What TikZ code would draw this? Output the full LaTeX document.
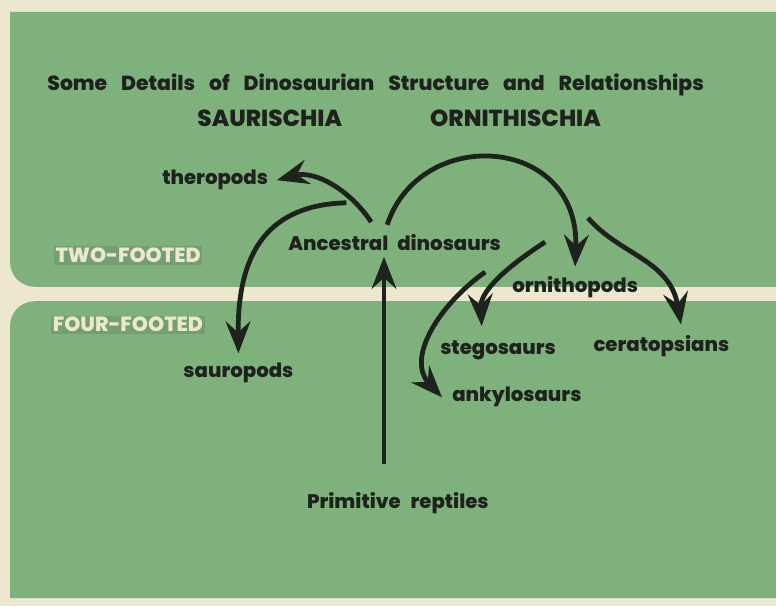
\documentclass[tikz,border=0pt]{standalone}
\usepackage{fontspec}
\setsansfont{Poppins}[BoldFont={Poppins ExtraBold}]
\usetikzlibrary{arrows.meta}
\definecolor{panelgreen}{RGB}{127,177,124}
\definecolor{gaitshade}{RGB}{116,160,113}
\definecolor{papercream}{RGB}{236,231,206}
\definecolor{inkdark}{RGB}{30,34,28}
\tikzset{
  every node/.style={font=\sffamily\bfseries\fontsize{14}{16}\selectfont,text=inkdark},
  taxon/.style={anchor=base west,inner sep=2pt},
  headline/.style={anchor=base west,font=\sffamily\bfseries\fontsize{14.5}{16}\selectfont},
  suborder/.style={anchor=base west,font=\sffamily\bfseries\fontsize{16.5}{18}\selectfont},
  gait/.style={anchor=base west,text=papercream,fill=gaitshade,inner sep=1.2pt,
    font=\sffamily\bfseries\fontsize{14.6}{16}\selectfont},
  lineage/.style={draw=inkdark,line width=3.4pt,
    -{Stealth[length=0.80cm,width=0.62cm,inset=0.28cm]}}
}

\begin{document}
\begin{tikzpicture}
  \useasboundingbox (0,0) rectangle (19.40,15.15);
  \fill[papercream] (0,0) rectangle (19.40,15.15);

  % Two panels: two-footed above, four-footed below.
  \fill[panelgreen] (19.40,14.85) -- (0.25,14.85) -- (0.25,8.60)
    arc[start angle=180,end angle=270,radius=0.62] -- (19.40,7.98) -- cycle;
  \fill[panelgreen] (19.40,0.20) -- (0.25,0.20) -- (0.25,7.00)
    arc[start angle=180,end angle=90,radius=0.62] -- (19.40,7.62) -- cycle;

  % Headings.
  \node[headline] (title) at (1.06,12.88)
    {\spaceskip=0.68em\relax Some Details of Dinosaurian Structure and Relationships};
  \node[suborder] (saurischia) at (4.81,11.98) {SAURISCHIA};
  \node[suborder] (ornithischia) at (10.63,11.98) {ORNITHISCHIA};
  \node[gait] (twofooted) at (1.34,8.58) {TWO-FOOTED};
  \node[gait] (fourfooted) at (1.27,6.85) {FOUR-FOOTED};

  % Groups.
  \node[taxon] (ancestral) at (7.13,8.88) {\spaceskip=0.45em\relax Ancestral dinosaurs};
  \node[taxon] (theropods) at (3.98,10.53) {theropods};
  \node[taxon] (sauropods) at (4.51,5.70) {sauropods};
  \node[taxon] (ornithopods) at (12.73,7.83) {ornithopods};
  \node[taxon] (stegosaurs) at (10.93,6.28) {stegosaurs};
  \node[taxon] (ceratopsians) at (14.76,6.35) {ceratopsians};
  \node[taxon] (ankylosaurs) at (11.23,5.10) {ankylosaurs};
  \node[taxon] (primitive) at (7.60,2.45) {\spaceskip=0.5em\relax Primitive reptiles};

  % Where the branches leave their stems.
  \coordinate (stem-foot) at (9.60,3.55);
  \coordinate (thero-sprout) at (9.28,9.60);
  \coordinate (sauro-sprout) at (8.66,10.08);
  \coordinate (ornitho-sprout) at (9.68,9.53);
  \coordinate (stego-sprout) at (13.63,9.10);
  \coordinate (ankylo-sprout) at (12.13,8.35);
  \coordinate (cerato-sprout) at (14.70,9.70);

  % Lines of descent.
  \draw[lineage] (stem-foot) -- ([yshift=-2pt]stem-foot |- ancestral.south);
  \draw[lineage] (thero-sprout) .. controls (8.75,10.40) and (7.88,10.90)
    .. ([xshift=4pt]theropods.east);
  \draw[lineage] (sauro-sprout) .. controls (6.75,10.03) and (5.93,8.90)
    .. ([yshift=5pt]sauropods.north);
  \draw[lineage] (ornitho-sprout) .. controls (10.50,12.03) and (14.50,11.78)
    .. ([yshift=5pt]ornithopods.north);
  \draw[lineage] (stego-sprout) .. controls (12.75,8.53) and (12.00,7.90)
    .. ([xshift=-0.41cm,yshift=8.5pt]stegosaurs.north);
  \draw[lineage] (ankylo-sprout) .. controls (11.00,7.55) and (10.13,6.20)
    .. ([xshift=-0.18cm]ankylosaurs.west);
  \draw[lineage] (cerato-sprout) .. controls (15.50,8.78) and (16.75,8.65)
    .. ([xshift=0.49cm,yshift=6pt]ceratopsians.north);
\end{tikzpicture}
\end{document}
